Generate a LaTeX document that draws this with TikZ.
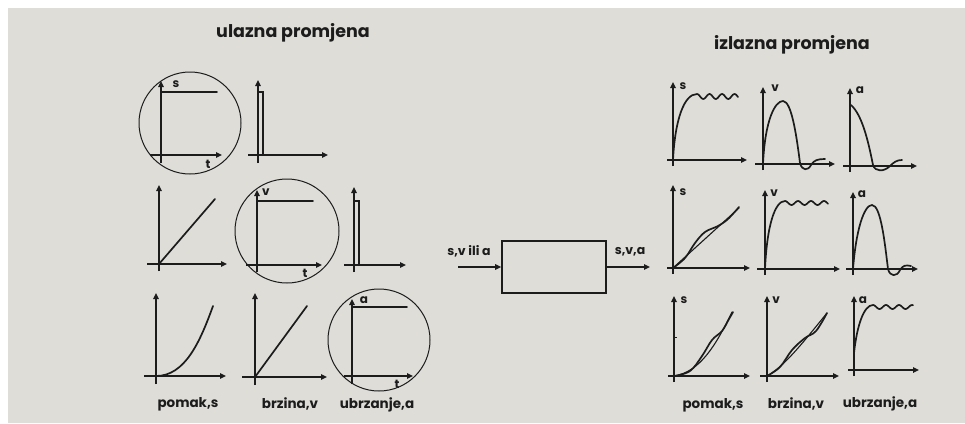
\documentclass[tikz,border=0pt]{standalone}
\usepackage{fontspec}
\setmainfont{Poppins}
\usetikzlibrary{arrows.meta}
\definecolor{paper}{RGB}{222,221,216}
\definecolor{ink}{RGB}{28,28,28}
\tikzset{
  axis/.style={draw=ink, line width=1.7pt, -{Triangle[length=6pt,width=5.5pt]}},
  curve/.style={draw=ink, line width=1.7pt, line join=round, line cap=round},
  thincurve/.style={draw=ink, line width=1.1pt, line cap=round},
  ring/.style={draw=ink, line width=1pt},
  lab/.style={text=ink, font=\fontsize{12}{13}\selectfont\bfseries, inner sep=0pt},
  captxt/.style={text=ink, font=\fontsize{13.5}{15}\selectfont\bfseries, inner sep=0pt},
  flowtxt/.style={text=ink, font=\fontsize{12.5}{14}\selectfont\bfseries, inner sep=0pt},
  titletxt/.style={text=ink, font=\fontsize{17.5}{19}\selectfont\bfseries, inner sep=0pt},
  blockbox/.style={draw=ink, line width=1.7pt, minimum width=104pt, minimum height=52pt, inner sep=0pt},
  flow/.style={draw=ink, line width=1.5pt, -{Triangle[length=6pt,width=5.5pt]}}
}
\begin{document}
\begin{tikzpicture}[x=1pt,y=-1pt]
\useasboundingbox (0,0) rectangle (965,423);
\fill[white] (0,0) rectangle (965,423);
\fill[paper] (8,8) rectangle (965,423);

% titles
\node[titletxt] (tin) at (293,33) {ulazna promjena};
\node[titletxt] (tout) at (792,45) {izlazna promjena};

% ---------- left grid ----------
% row 1, graph 1 (circled step in s)
\draw[ring] (190,123) circle (51);
\draw[axis] (150,155) -- (222,155);
\draw[axis] (161,163) -- (161,81);
\draw[curve] (161,92) -- (217,92);
\node[lab] (s1) at (176,84) {s};
\node[lab] (t1) at (208,164) {t};
% row 1, graph 2 (impulse)
\draw[axis] (248,155) -- (328,155);
\draw[axis] (258,163) -- (258,80);
\draw[thincurve] (258,92) -- (263,92) -- (263,155);

% row 2, graph 1 (ramp)
\draw[axis] (147,264) -- (227,264);
\draw[axis] (159,271) -- (159,185);
\draw[curve] (159,264) -- (215,199);
% row 2, graph 2 (circled step in v)
\draw[ring] (287,231) circle (52);
\draw[axis] (246,265) -- (322,265);
\draw[axis] (257,272) -- (257,190);
\draw[curve] (257,201) -- (313,201);
\node[lab] (v2) at (266,192) {v};
\node[lab] (t2) at (305,273) {t};
% row 2, graph 3 (impulse)
\draw[axis] (344,265) -- (406,265);
\draw[axis] (354,272) -- (354,187);
\draw[thincurve] (354,201) -- (359,201) -- (359,265);

% row 3, graph 1 (parabola)
\draw[axis] (144,376) -- (226,376);
\draw[axis] (156,384) -- (156,293);
\draw[curve] (146,376) -- (156,376) .. controls (185,376) and (200,342) .. (213,306);
% row 3, graph 2 (ramp)
\draw[axis] (242,377) -- (327,377);
\draw[axis] (255,385) -- (255,293);
\draw[curve] (245,377) -- (255,377) -- (307,306);
% row 3, graph 3 (circled step in a)
\draw[ring] (379,340) circle (51);
\draw[axis] (344,376) -- (413,376);
\draw[axis] (352,384) -- (352,299);
\draw[curve] (352,307) -- (407,307);
\node[lab] (a3) at (364,300) {a};
\node[lab] (t3) at (397,384) {t};

\node[captxt] (c1) at (188,404) {pomak,s};
\node[captxt] (c2) at (290,404) {brzina,v};
\node[captxt] (c3) at (377,405) {ubrzanje,a};

% ---------- block ----------
\node[blockbox] (blk) at (554,267) {};
\coordinate (inp) at (458,267);
\coordinate (outp) at (650,267);
\draw[flow] (inp) -- (blk.west);
\draw[flow] (blk.east) -- (outp);
\node[flowtxt] (lin) at (469,251) {s,v ili a};
\node[flowtxt] (lout) at (630,252) {s,v,a};

% ---------- right grid ----------
% row 1
\draw[axis] (667,160) -- (747,160);
\draw[axis] (673,166) -- (673,82);
\node[lab] (rs1) at (683,86) {s};
\draw[curve] (673,160) .. controls (675,120) and (684,94) .. (697,94)
  -- plot[domain=697:738, samples=40] (\x, {96.5-2.5*cos(360*(\x-697)/12.5)});

\draw[axis] (755,164) -- (835,164);
\draw[axis] (763,170) -- (763,87);
\node[lab] (rv1) at (775,88) {v};
\draw[curve] (763,164) .. controls (765,120) and (775,101) .. (783,101)
  .. controls (792,101) and (797,140) .. (800,163)
  .. controls (802,171) and (808,171) .. (811,165)
  .. controls (814,160) and (818,159) .. (825,159);

\draw[axis] (843,166) -- (917,166);
\draw[axis] (850,172) -- (850,88);
\node[lab] (ra1) at (860,90) {a};
\draw[curve] (851,105) .. controls (862,115) and (868,140) .. (873,165)
  .. controls (875,172) and (884,172) .. (890,166)
  .. controls (894,162) and (897,160) .. (902,160);

% row 2
\draw[axis] (667,268) -- (750,268);
\draw[axis] (673,274) -- (673,185);
\node[lab] (rs2) at (683,192) {s};
\draw[thincurve] (673,268) -- (739,208);
\draw[curve] plot[smooth, tension=0.6] coordinates {(673,268) (685,258) (695,243) (705,232) (718,226) (728,219) (739,207)};

\draw[axis] (757,269) -- (840,269);
\draw[axis] (765,275) -- (765,190);
\node[lab] (rv2) at (774,193) {v};
\draw[curve] (765,269) .. controls (767,225) and (775,201) .. (785,201)
  -- plot[domain=785:828, samples=40] (\x, {203-2*cos(360*(\x-785)/13)});

\draw[axis] (846,269) -- (918,269);
\draw[axis] (853,275) -- (853,192);
\node[lab] (ra2) at (862,194) {a};
\draw[curve] (853,269) .. controls (856,230) and (864,205) .. (872,205)
  .. controls (881,205) and (885,245) .. (888,269)
  .. controls (890,277) and (897,277) .. (900,270)
  .. controls (903,265) and (906,265) .. (911,266);

% row 3
\draw[axis] (668,376) -- (750,376);
\draw[axis] (674,382) -- (674,296);
\node[lab] (rs3) at (684,300) {s};
\draw[ink, line width=0.6pt] (674,337) -- (677,337);
\draw[thincurve] (674,376) .. controls (700,372) and (716,345) .. (732,312);
\draw[curve] plot[smooth, tension=0.6] coordinates {(674,376) (690,371) (702,356) (712,340) (722,331) (729,319) (733,312)};

\draw[axis] (760,376) -- (839,376);
\draw[axis] (767,382) -- (767,296);
\node[lab] (rv3) at (776,300) {v};
\draw[thincurve] (767,376) .. controls (785,366) and (805,340) .. (827,313);
\draw[curve] plot[smooth, tension=0.6] coordinates {(767,376) (780,367) (792,350) (805,338) (816,331) (827,313)};

\draw[axis] (848,370) -- (919,370);
\draw[axis] (854,376) -- (854,296);
\node[lab] (ra3) at (863,300) {a};
\draw[curve] (854,353) .. controls (857,325) and (864,305) .. (873,305)
  -- plot[domain=873:913, samples=40] (\x, {307-2*cos(360*(\x-873)/13)});

\node[captxt] (rc1) at (713,405) {pomak,s};
\node[captxt] (rc2) at (796,404) {brzina,v};
\node[captxt] (rc3) at (880,404) {ubrzanje,a};
\end{tikzpicture}
\end{document}
